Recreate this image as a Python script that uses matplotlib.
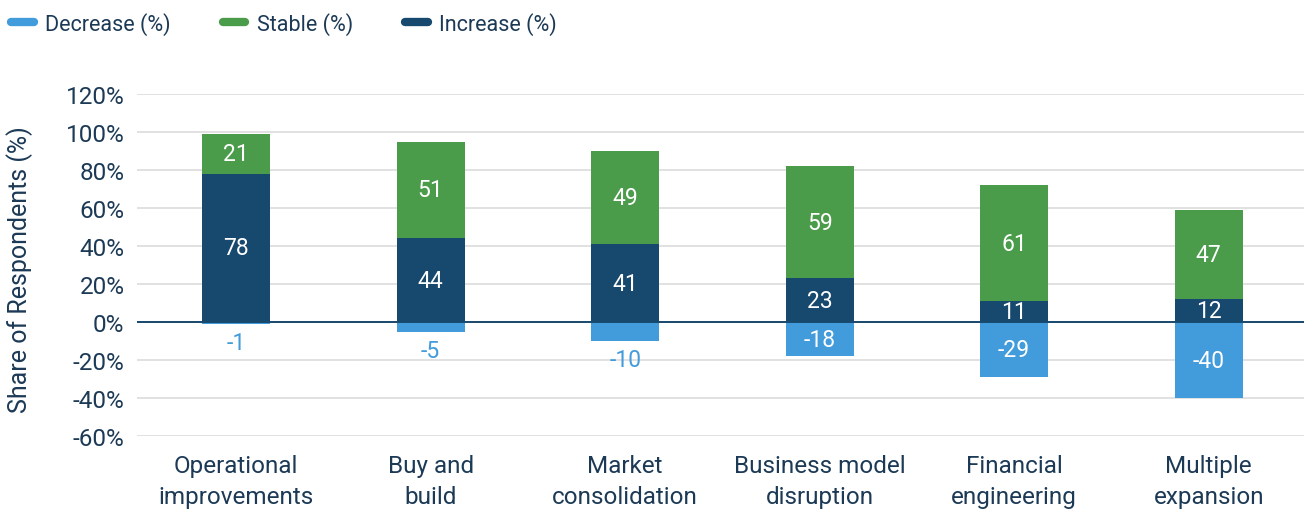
import matplotlib.pyplot as plt
from matplotlib.lines import Line2D
import numpy as np

# ---- data ----
categories = ["Operational\nimprovements", "Buy and\nbuild", "Market\nconsolidation",
              "Business model\ndisruption", "Financial\nengineering", "Multiple\nexpansion"]
increase = [78, 44, 41, 23, 11, 12]
stable = [21, 51, 49, 59, 61, 47]
decrease = [-1, -5, -10, -18, -29, -40]
yticks = [-60, -40, -20, 0, 20, 40, 60, 80, 100, 120]

c_dec = "#429bdb"
c_stab = "#4a9c4a"
c_inc = "#17496e"
c_text = "#1c3a56"

plt.rcParams['font.family'] = ['Roboto', 'DejaVu Sans']

fig = plt.figure(figsize=(13.04, 5.10), dpi=100)
ax = fig.add_axes([0.105, 0.1431, 0.895, 0.6706])

x = np.arange(len(categories))
w = 0.35

ax.bar(x, decrease, w, color=c_dec, zorder=3)
ax.bar(x, increase, w, color=c_inc, zorder=3)
ax.bar(x, stable, w, bottom=increase, color=c_stab, zorder=3)

# value labels
fs_val = 16.5
for i in range(len(x)):
    ax.text(x[i], increase[i] / 2, str(increase[i]), ha='center', va='center',
            color='white', fontsize=fs_val, zorder=4)
    ax.text(x[i], increase[i] + stable[i] / 2, str(stable[i]), ha='center', va='center',
            color='white', fontsize=fs_val, zorder=4)
    if abs(decrease[i]) >= 15:
        ax.text(x[i], decrease[i] / 2, str(decrease[i]), ha='center', va='center',
                color='white', fontsize=fs_val, zorder=4)
    else:
        ax.annotate(str(decrease[i]), (x[i], decrease[i]), xytext=(0, -13.5),
                    textcoords='offset points', ha='center', va='center',
                    color=c_dec, fontsize=fs_val, zorder=4)

ax.axhline(0, color=c_inc, lw=1.4, zorder=3.5)

ax.set_ylim(-60, 120)
ax.set_xlim(-0.51, 5.49)
ax.set_yticks(yticks)
ax.set_yticklabels([f"{t}%" for t in yticks])
ax.set_xticks(x)
ax.set_xticklabels(categories)
ax.tick_params(axis='both', length=0, labelsize=17.5, labelcolor=c_text)
ax.tick_params(axis='y', pad=9)
ax.tick_params(axis='x', pad=13)
for lbl in ax.get_xticklabels():
    lbl.set_linespacing(1.42)
ax.grid(axis='y', color='#dcdcdc', lw=1.2, zorder=0)
for s in ax.spines.values():
    s.set_visible(False)

ax.set_ylabel("Share of Respondents (%)", fontsize=18, color=c_text)
ax.yaxis.set_label_coords(-0.089, 0.49)

handles = [Line2D([0], [0], color=c, lw=6, solid_capstyle='round') for c in (c_dec, c_stab, c_inc)]
fig.legend(handles, ["Decrease (%)", "Stable (%)", "Increase (%)"], loc='upper left',
           bbox_to_anchor=(-0.0065, 1.013), ncol=3, frameon=False, fontsize=15.5,
           handlelength=1.05, columnspacing=2.4, handletextpad=0.55, labelcolor=c_text)

fig.savefig("out.png", dpi=100)
